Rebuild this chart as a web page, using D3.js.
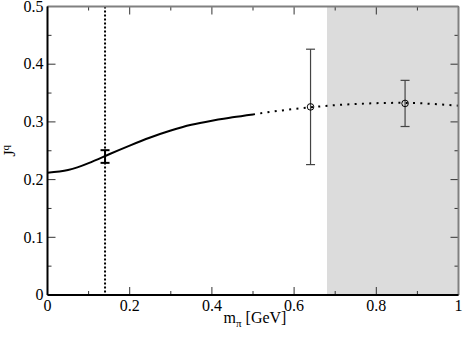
<!DOCTYPE html>
<html lang="en">
<head>
    <meta charset="UTF-8">
    <title>J^q vs m_pi</title>
    <script src="https://d3js.org/d3.v7.min.js"></script>
    <style>
        body { margin: 0; background: white; }
    </style>
</head>
<body>
<div id="chart"></div>
<script>
    // chiral curve (solid part, then dotted continuation)
    const solidX = [0, 0.05, 0.1, 0.15, 0.2, 0.25, 0.3, 0.35, 0.4, 0.45, 0.5];
    const solidY = [0.212, 0.2165, 0.2285, 0.244, 0.259, 0.273, 0.285, 0.295, 0.302, 0.308, 0.313];
    const dottedX = [0.5, 0.55, 0.6, 0.65, 0.7, 0.75, 0.8, 0.85, 0.9, 0.95, 1.0];
    const dottedY = [0.313, 0.318, 0.3225, 0.326, 0.329, 0.331, 0.3325, 0.333, 0.3325, 0.3305, 0.328];

    // extrapolated value at the physical pion mass
    const physX = [0.14];
    const physY = [0.240];
    const physErr = [0.011];

    // lattice points
    const latX = [0.64, 0.87];
    const latY = [0.326, 0.332];
    const latErr = [0.100, 0.040];

    const physMass = 0.14;
    const bandStart = 0.68;

    const xTicks = [0, 0.2, 0.4, 0.6, 0.8, 1];
    const xTickLabels = ["0", "0.2", "0.4", "0.6", "0.8", "1"];
    const yTicks = [0, 0.1, 0.2, 0.3, 0.4, 0.5];
    const yTickLabels = ["0", "0.1", "0.2", "0.3", "0.4", "0.5"];

    const width = 463, height = 337;
    const margin = { top: 6.5, right: 4.5, bottom: 42, left: 47.5 };
    const iw = width - margin.left - margin.right;
    const ih = height - margin.top - margin.bottom;
    const serif = "'Liberation Serif', 'DejaVu Serif', 'Times New Roman', serif";

    const svg = d3.select("#chart").append("svg")
        .attr("width", width).attr("height", height)
        .attr("font-family", serif);
    const g = svg.append("g").attr("transform", `translate(${margin.left},${margin.top})`);

    const x = d3.scaleLinear().domain([0, 1]).range([0, iw]);
    const y = d3.scaleLinear().domain([0, 0.5]).range([ih, 0]);

    // grey band
    g.append("rect")
        .attr("x", x(bandStart)).attr("y", 0)
        .attr("width", x(1) - x(bandStart)).attr("height", ih)
        .attr("fill", "#dcdcdc");

    // physical pion mass line
    g.append("line")
        .attr("x1", x(physMass)).attr("x2", x(physMass))
        .attr("y1", 0).attr("y2", ih)
        .attr("stroke", "black").attr("stroke-width", 2)
        .attr("stroke-dasharray", "2,2");

    const line = d3.line().x(d => x(d[0])).y(d => y(d[1])).curve(d3.curveNatural);

    g.append("path")
        .datum(solidX.map((v, i) => [v, solidY[i]]))
        .attr("d", line).attr("fill", "none")
        .attr("stroke", "black").attr("stroke-width", 2);

    g.append("path")
        .datum(dottedX.map((v, i) => [v, dottedY[i]]))
        .attr("d", line).attr("fill", "none")
        .attr("stroke", "black").attr("stroke-width", 2)
        .attr("stroke-dasharray", "2,5.3");

    // error bars
    function errBar(xv, yv, ev, color, w) {
        const cap = 4.5;
        const eg = g.append("g").attr("stroke", color).attr("stroke-width", w);
        eg.append("line").attr("x1", x(xv)).attr("x2", x(xv))
            .attr("y1", y(yv - ev)).attr("y2", y(yv + ev));
        [yv - ev, yv + ev].forEach(e => {
            eg.append("line").attr("x1", x(xv) - cap).attr("x2", x(xv) + cap)
                .attr("y1", y(e)).attr("y2", y(e));
        });
    }
    physX.forEach((v, i) => errBar(v, physY[i], physErr[i], "black", 2));
    latX.forEach((v, i) => errBar(v, latY[i], latErr[i], "#444", 1.2));

    g.selectAll(".pt").data(latX).enter().append("circle")
        .attr("class", "pt")
        .attr("cx", d => x(d)).attr("cy", (d, i) => y(latY[i]))
        .attr("r", 3.3).attr("fill", "none")
        .attr("stroke", "black").attr("stroke-width", 1);

    // ticks (inward, major + minor)
    const tg = g.append("g").attr("stroke", "#333").attr("stroke-width", 1);
    d3.range(0, 1.0001, 0.1).forEach((t, i) => {
        const len = i % 2 === 0 ? 8 : 4;
        tg.append("line").attr("x1", x(t)).attr("x2", x(t)).attr("y1", ih).attr("y2", ih - len);
        tg.append("line").attr("x1", x(t)).attr("x2", x(t)).attr("y1", 0).attr("y2", len);
    });
    d3.range(0, 0.5001, 0.05).forEach((t, i) => {
        const len = i % 2 === 0 ? 8 : 4;
        tg.append("line").attr("x1", 0).attr("x2", len).attr("y1", y(t)).attr("y2", y(t));
        tg.append("line").attr("x1", iw).attr("x2", iw - len).attr("y1", y(t)).attr("y2", y(t));
    });

    // frame
    g.append("line").attr("x1", 0).attr("x2", iw).attr("y1", 0).attr("y2", 0)
        .attr("stroke", "#808080").attr("stroke-width", 2);
    g.append("line").attr("x1", iw).attr("x2", iw).attr("y1", 0).attr("y2", ih)
        .attr("stroke", "#808080").attr("stroke-width", 2);
    g.append("line").attr("x1", 0).attr("x2", 0).attr("y1", 0).attr("y2", ih)
        .attr("stroke", "black").attr("stroke-width", 2);
    g.append("line").attr("x1", 0).attr("x2", iw).attr("y1", ih).attr("y2", ih)
        .attr("stroke", "black").attr("stroke-width", 2);

    // tick labels
    g.selectAll(".xl").data(xTicks).enter().append("text")
        .attr("x", d => x(d)).attr("y", ih + 16)
        .attr("text-anchor", "middle").attr("font-size", 16)
        .text((d, i) => xTickLabels[i]);
    g.selectAll(".yl").data(yTicks).enter().append("text")
        .attr("x", -4).attr("y", d => y(d)).attr("dy", "0.33em")
        .attr("text-anchor", "end").attr("font-size", 16)
        .text((d, i) => yTickLabels[i]);

    // axis titles
    const xt = svg.append("text")
        .attr("x", margin.left + x(0.5) + 2).attr("y", 323)
        .attr("text-anchor", "middle").attr("font-size", 16);
    xt.append("tspan").text("m");
    xt.append("tspan").attr("font-size", 11).attr("dy", 4).text("π");
    xt.append("tspan").attr("dy", -4).text(" [GeV]");

    const yt = svg.append("text")
        .attr("transform", `translate(15,${margin.top + ih / 2}) rotate(-90)`)
        .attr("text-anchor", "middle").attr("font-size", 16);
    yt.append("tspan").text("J");
    yt.append("tspan").attr("font-size", 11).attr("dy", -6).text("q");
</script>
</body>
</html>
